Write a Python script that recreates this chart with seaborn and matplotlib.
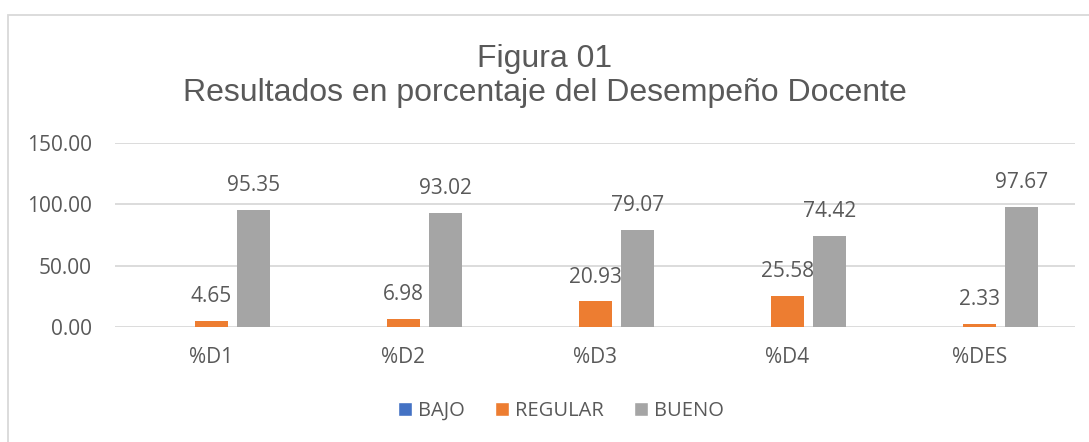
import pandas as pd
import matplotlib.pyplot as plt
import seaborn as sns
from matplotlib.patches import Rectangle, Patch

categorias = ['%D1', '%D2', '%D3', '%D4', '%DES']
bajo = [0.0, 0.0, 0.0, 0.0, 0.0]
regular = [4.65, 6.98, 20.93, 25.58, 2.33]
bueno = [95.35, 93.02, 79.07, 74.42, 97.67]
niveles = ['BAJO', 'REGULAR', 'BUENO']
colores = ['#4472C4', '#ED7D31', '#A5A5A5']

df = pd.DataFrame({'Dim': categorias, 'BAJO': bajo, 'REGULAR': regular, 'BUENO': bueno})
df = pd.melt(df, id_vars='Dim', var_name='nivel', value_name='pct')

sns.set_style('white')
plt.rcParams['font.family'] = ['Open Sans', 'DejaVu Sans']
texto = '#595959'

fig = plt.figure(figsize=(10.89, 4.42), dpi=100)
ax = fig.add_axes([0.106, 0.260, 0.8816, 0.4165])

sns.barplot(data=df, x='Dim', y='pct', hue='nivel', hue_order=niveles,
            palette=colores, width=0.656, gap=0.214, ax=ax, legend=False,
            saturation=1, edgecolor='none')

for cont in ax.containers[1:]:
    ax.bar_label(cont, fmt='%.2f', padding=10, fontsize=15, color=texto)

ax.set_ylim(0, 150)
ax.set_yticks([0, 50, 100, 150])
ax.set_yticklabels(['%.2f' % v for v in [0, 50, 100, 150]])
ax.set_xlim(-0.5, 4.5)
ax.yaxis.grid(True, color='#D9D9D9', linewidth=1.3)
ax.set_axisbelow(True)
for s in ax.spines.values():
    s.set_visible(False)
ax.tick_params(axis='y', labelsize=15, labelcolor=texto, length=0, pad=17)
ax.tick_params(axis='x', labelsize=15, labelcolor=texto, length=0, pad=14)
ax.set_xlabel('')
ax.set_ylabel('')

fig.text(0.5, 0.8484, 'Figura 01', ha='center', va='baseline', fontsize=23,
         color=texto, family='Liberation Sans')
fig.text(0.5, 0.7715, 'Resultados en porcentaje del Desempeño Docente', ha='center',
         va='baseline', fontsize=23, color=texto, family='Liberation Sans')

handles = [Patch(facecolor=c, label=n) for c, n in zip(colores, niveles)]
fig.legend(handles=handles, loc='center', bbox_to_anchor=(0.515, 0.07), ncol=3,
           frameon=False, fontsize=14.5, labelcolor=texto, handlelength=0.7,
           handleheight=0.7, handletextpad=0.3, columnspacing=1.5)

fig.patches.append(Rectangle((0.0075, -0.05), 1.1, 1.016, transform=fig.transFigure,
                             fill=False, edgecolor='#D9D9D9', linewidth=1.3))

fig.savefig('out.png', dpi=100)
